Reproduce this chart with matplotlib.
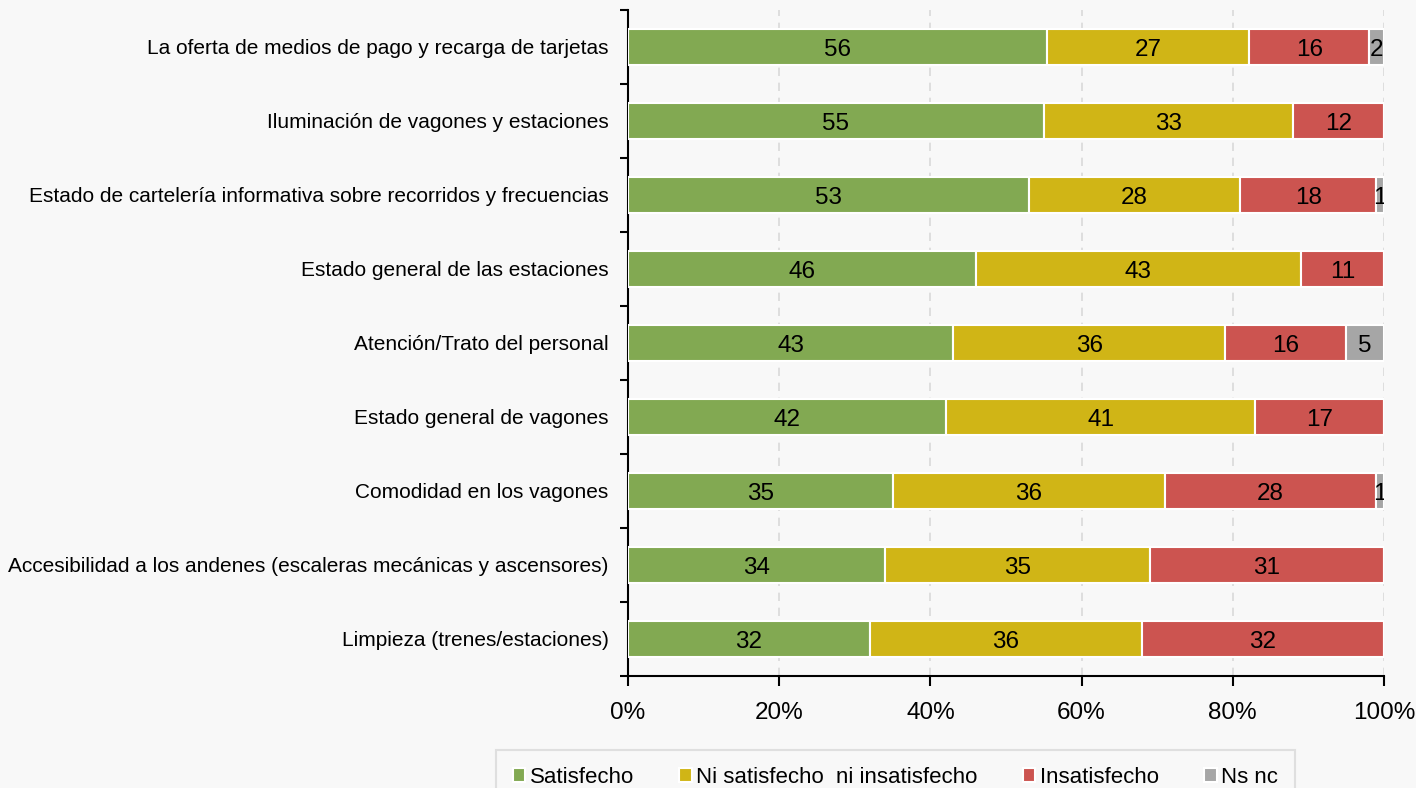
import numpy as np
import matplotlib.pyplot as plt

# Survey items (top to bottom) and answers per category
items = [
    "La oferta de medios de pago y recarga de tarjetas",
    "Iluminación de vagones y estaciones",
    "Estado de cartelería informativa sobre recorridos y frecuencias",
    "Estado general de las estaciones",
    "Atención/Trato del personal",
    "Estado general de vagones",
    "Comodidad en los vagones",
    "Accesibilidad a los andenes (escaleras mecánicas y ascensores)",
    "Limpieza (trenes/estaciones)",
]
satisfecho = [56, 55, 53, 46, 43, 42, 35, 34, 32]
ni_ni = [27, 33, 28, 43, 36, 41, 36, 35, 36]
insatisfecho = [16, 12, 18, 11, 16, 17, 28, 31, 32]
nsnc = [2, 0, 1, 0, 5, 0, 1, 0, 0]

series = ["Satisfecho", "Ni satisfecho  ni insatisfecho", "Insatisfecho", "Ns nc"]
colors = ["#82a952", "#d0b516", "#cc5450", "#a6a6a6"]
xticks = [0, 20, 40, 60, 80, 100]

plt.rcParams["font.family"] = ["Liberation Sans", "DejaVu Sans"]

bg = "#f8f8f8"
fig = plt.figure(figsize=(14.16, 7.88), dpi=100, facecolor=bg)
ax = fig.add_axes([628 / 1416, 1 - 676 / 788, 756 / 1416, 666 / 788], facecolor=bg)

data = np.array([satisfecho, ni_ni, insatisfecho, nsnc], dtype=float)
shares = data / data.sum(axis=0) * 100
y = np.arange(len(items))

left = np.zeros(len(items))
for vals, share, name, col in zip(data, shares, series, colors):
    ax.barh(y, share, left=left, height=0.49, color=col, edgecolor="white",
            linewidth=1.5, label=name, zorder=3)
    for yi, v, s, l in zip(y, vals, share, left):
        if v > 0:
            ax.text(l + s / 2, yi, f"{v:.0f}", ha="center", va="center_baseline",
                    fontsize=17.5, color="black", zorder=4, clip_on=True)
    left += share

ax.set_xlim(0, 100)
ax.set_ylim(len(items) - 0.5, -0.5)
ax.set_xticks(xticks)
ax.set_xticklabels([f"{t}%" for t in xticks], fontsize=17.5)
ax.tick_params(axis="x", length=7, width=1.5, pad=12)
ax.xaxis.grid(True, color="#d9d9d9", linestyle=(0, (5, 4)), linewidth=1.2, zorder=0)

ax.set_yticks(y)
ax.set_yticklabels(items, fontsize=15)
ax.set_yticks(np.arange(-0.5, len(items)), minor=True)
ax.tick_params(axis="y", which="major", length=0, pad=14)
ax.tick_params(axis="y", which="minor", length=6, width=1.5)

for side in ["top", "right"]:
    ax.spines[side].set_visible(False)
for side in ["left", "bottom"]:
    ax.spines[side].set_linewidth(1.5)

leg = fig.legend(loc="upper center", bbox_to_anchor=(895.5 / 1416, 1 - 750 / 788),
                 ncol=4, frameon=True, fancybox=False, fontsize=16,
                 handlelength=0.55, handleheight=0.55, handletextpad=0.2,
                 columnspacing=2.05, borderpad=0.75, borderaxespad=0)
leg.get_frame().set_edgecolor("#d9d9d9")
leg.get_frame().set_facecolor(bg)
leg.get_frame().set_linewidth(1.5)

fig.savefig("out.png", dpi=100, facecolor=bg)
